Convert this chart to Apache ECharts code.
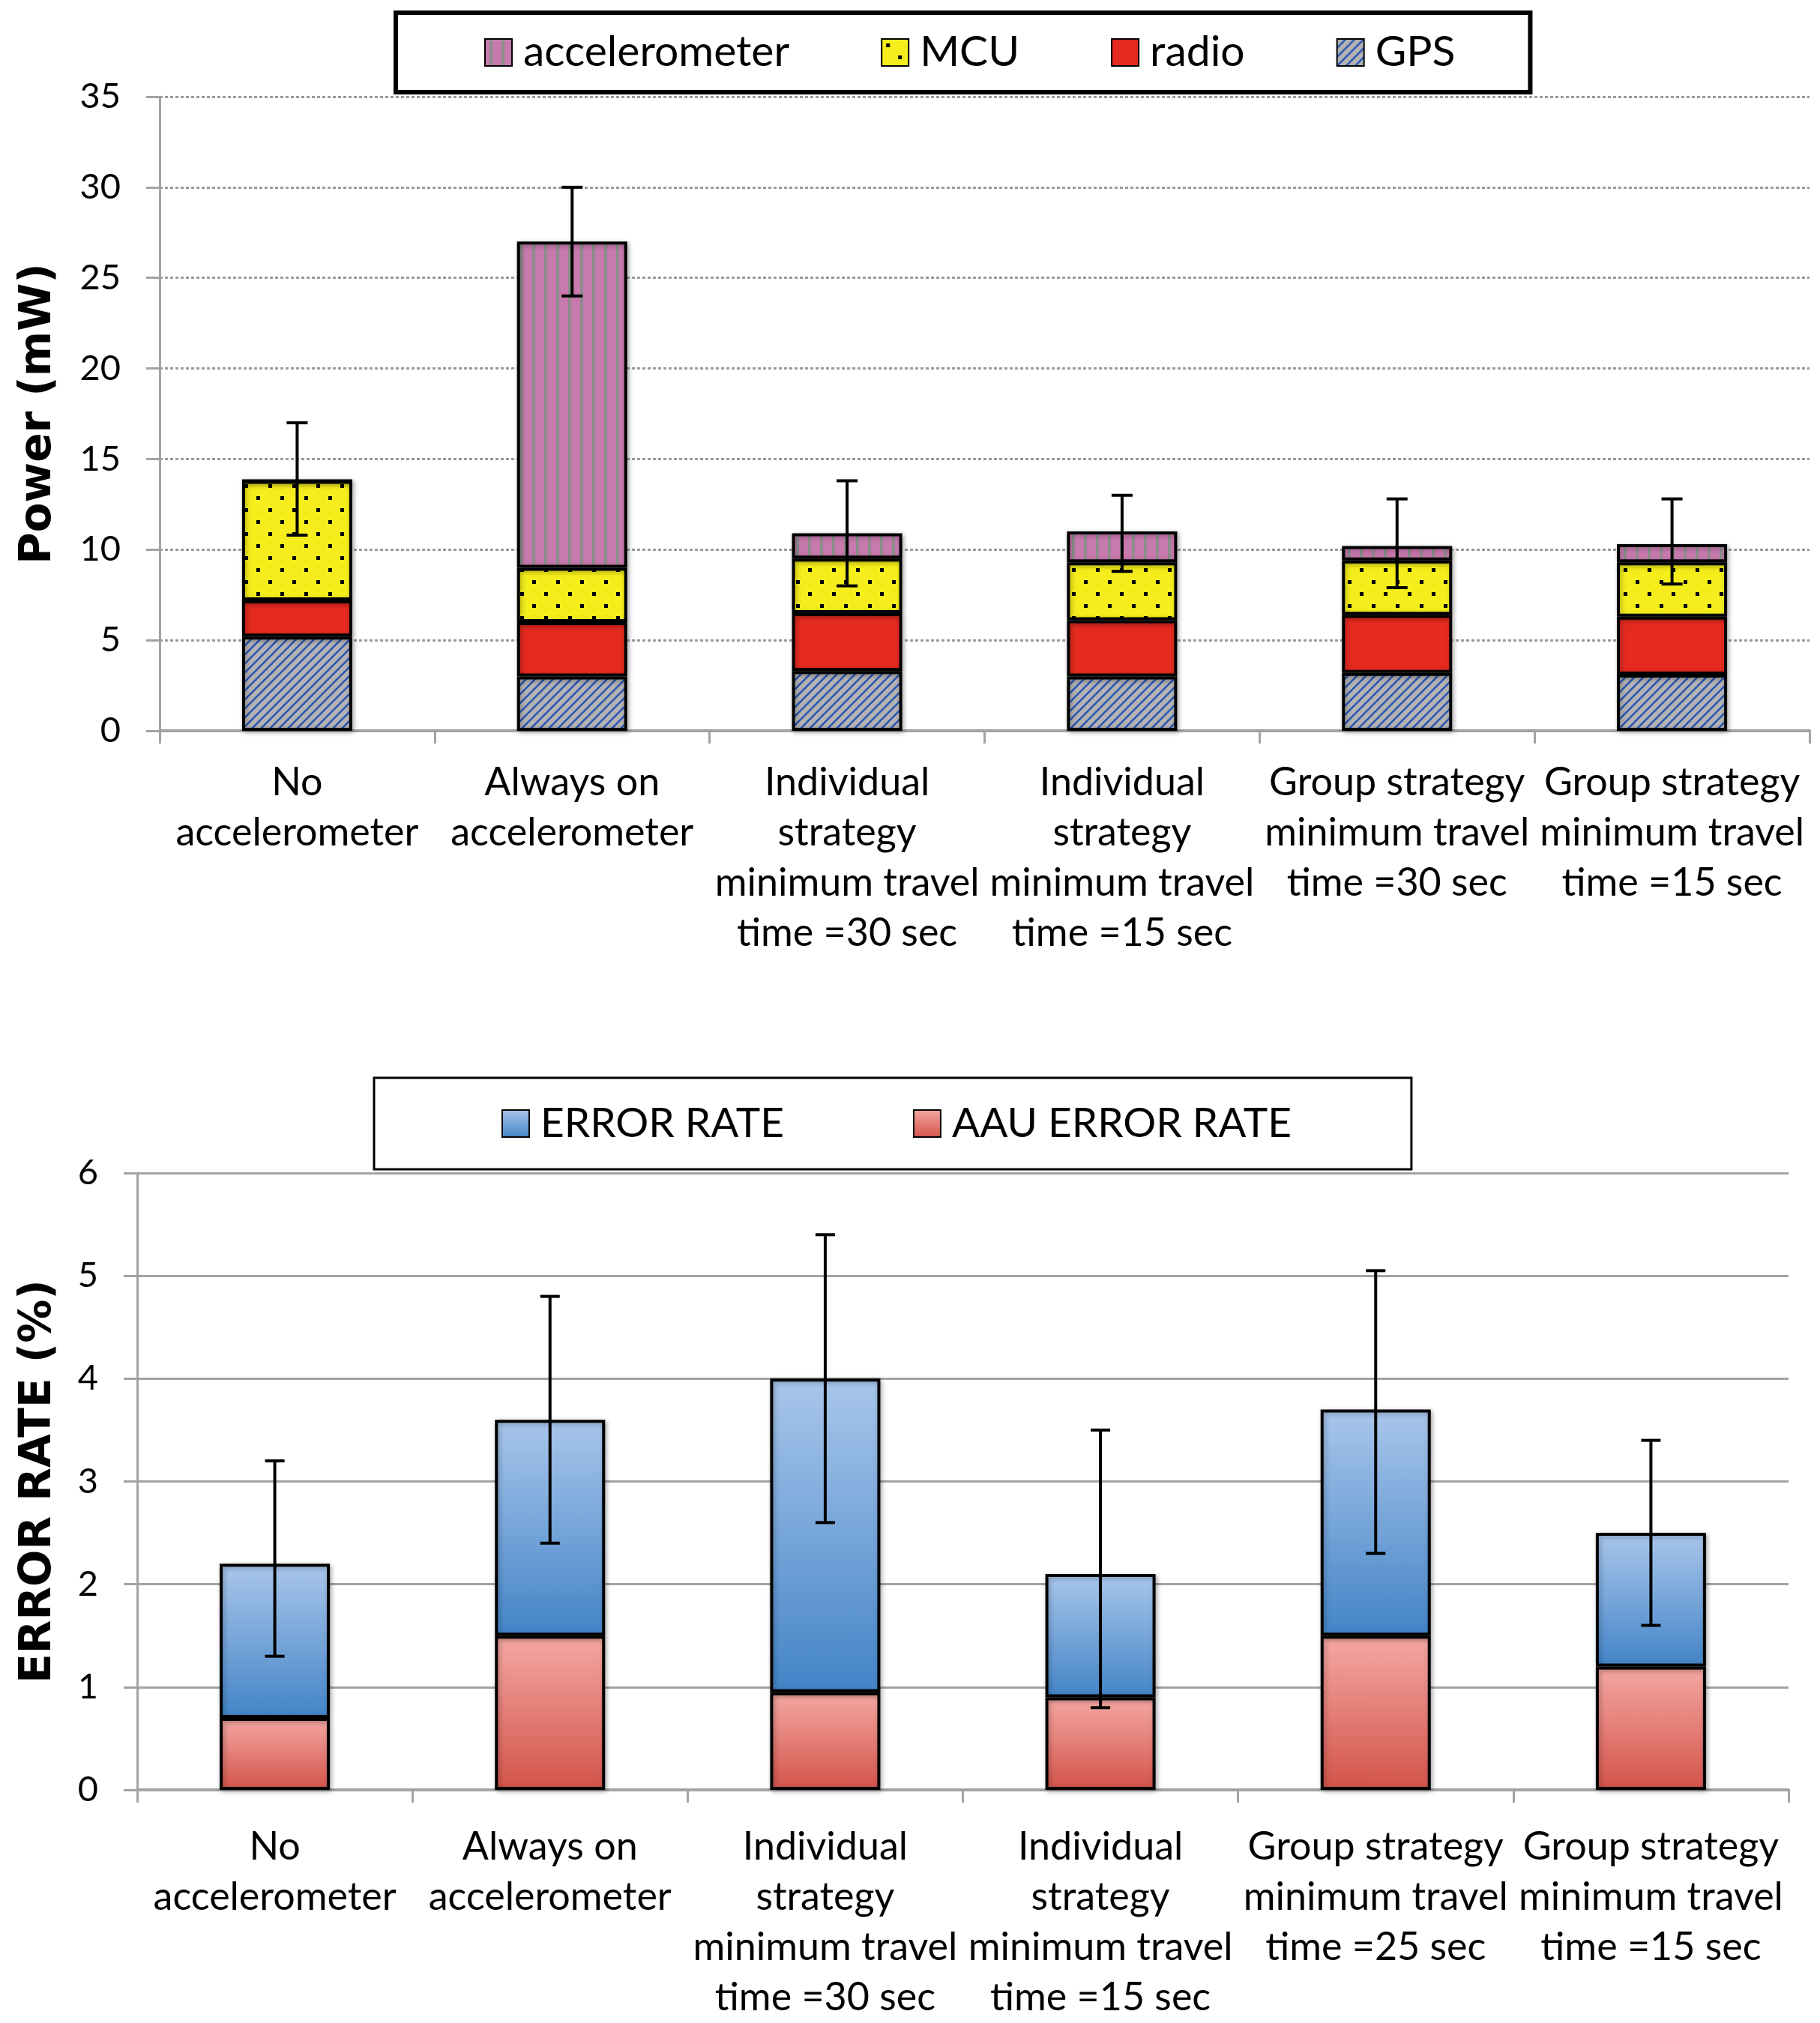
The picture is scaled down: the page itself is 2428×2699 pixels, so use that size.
<!DOCTYPE html>
<html><head><meta charset="utf-8">
<script src="https://cdn.jsdelivr.net/npm/echarts@6/dist/echarts.min.js"></script>
<style>html,body{margin:0;padding:0;background:#fff}#c{width:2428px;height:2699px}</style>
</head><body><div id="c"></div>
<script>
// ---------- data (top chart: power, mW) ----------
const categoriesTop = [
  "No\naccelerometer",
  "Always on\naccelerometer",
  "Individual\nstrategy\nminimum travel\ntime =30 sec",
  "Individual\nstrategy\nminimum travel\ntime =15 sec",
  "Group strategy\nminimum travel\ntime =30 sec",
  "Group strategy\nminimum travel\ntime =15 sec"
];
const gpsPower   = [5.2, 3.0, 3.3, 3.0, 3.2, 3.1];
const radioPower = [2.0, 3.0, 3.2, 3.1, 3.2, 3.2];
const mcuPower   = [6.6, 3.0, 3.0, 3.2, 3.0, 3.0];
const accelPower = [0,  18.0, 1.4, 1.7, 0.8, 1.0];
const powerErrLow  = [10.8, 24.0, 8.0, 8.8, 7.9, 8.1];
const powerErrHigh = [17.0, 30.0, 13.8, 13.0, 12.8, 12.8];
const powerTicks = {min: 0, max: 35, interval: 5};

// ---------- data (bottom chart: error rate, %) ----------
const categoriesBottom = [
  "No\naccelerometer",
  "Always on\naccelerometer",
  "Individual\nstrategy\nminimum travel\ntime =30 sec",
  "Individual\nstrategy\nminimum travel\ntime =15 sec",
  "Group strategy\nminimum travel\ntime =25 sec",
  "Group strategy\nminimum travel\ntime =15 sec"
];
const aauErrorRate = [0.7, 1.5, 0.95, 0.9, 1.5, 1.2];
const errorRate    = [1.5, 2.1, 3.05, 1.2, 2.2, 1.3];   // upper stacked segment
const rateErrLow   = [1.3, 2.4, 2.6, 0.8, 2.3, 1.6];
const rateErrHigh  = [3.2, 4.8, 5.4, 3.5, 5.05, 3.4];
const rateTicks = {min: 0, max: 6, interval: 1};

// ---------- fill patterns ----------
function makePattern(w, h, draw) {
  const c = document.createElement('canvas');
  c.width = w; c.height = h;
  draw(c.getContext('2d'), w, h);
  return {image: c, repeat: 'repeat'};
}
const gpsFill = makePattern(12, 12, (g, w, h) => {
  g.fillStyle = '#b3b3b3'; g.fillRect(0, 0, w, h);
  g.strokeStyle = '#2a56b4'; g.lineWidth = 2.6;
  g.beginPath();
  g.moveTo(-2, h + 2); g.lineTo(w + 2, -2);
  g.moveTo(-2, 2); g.lineTo(2, -2);
  g.moveTo(w - 2, h + 2); g.lineTo(w + 2, h - 2);
  g.stroke();
});
const mcuFill = makePattern(32, 32, (g, w, h) => {
  g.fillStyle = '#f5ee1c'; g.fillRect(0, 0, w, h);
  g.fillStyle = '#000';
  g.fillRect(6, 6, 5, 5);
  g.fillRect(22, 22, 5, 5);
});
const accelFill = makePattern(16, 16, (g, w, h) => {
  g.fillStyle = '#c879ad'; g.fillRect(0, 0, w, h);
  g.fillStyle = '#8d8d8d'; g.fillRect(6, 0, 4, h);
});
const radioFill = '#e52a20';
const blueFill = new echarts.graphic.LinearGradient(0, 0, 0, 1, [
  {offset: 0, color: '#a9c6eb'}, {offset: 1, color: '#4384c7'}]);
const redFill = new echarts.graphic.LinearGradient(0, 0, 0, 1, [
  {offset: 0, color: '#f4a8a3'}, {offset: 1, color: '#d3534a'}]);

// ---------- helpers ----------
const FONT = 'Lato';
const TITLE_FONT = 'DejaVu Sans';
function errorBars(capW) {
  return function (params, api) {
    const x = api.value(0), lo = api.value(1), hi = api.value(2);
    const a = api.coord([x, hi]), b = api.coord([x, lo]);
    const style = {stroke: '#000', lineWidth: 4};
    return {type: 'group', children: [
      {type: 'line', shape: {x1: a[0], y1: a[1], x2: b[0], y2: b[1]}, style},
      {type: 'line', shape: {x1: a[0] - capW / 2, y1: a[1], x2: a[0] + capW / 2, y2: a[1]}, style},
      {type: 'line', shape: {x1: b[0] - capW / 2, y1: b[1], x2: b[0] + capW / 2, y2: b[1]}, style}
    ]};
  };
}
const barBase = {
  type: 'bar', barWidth: 147,
  itemStyle: {borderColor: '#000', borderWidth: 4,
    shadowBlur: 6, shadowColor: 'rgba(0,0,0,0.3)', shadowOffsetX: 2, shadowOffsetY: 2},
  emphasis: {disabled: true}
};
function bar(name, data, fill, stack, xi) {
  return Object.assign({}, barBase, {
    name, data, stack, xAxisIndex: xi, yAxisIndex: xi,
    itemStyle: Object.assign({}, barBase.itemStyle, {color: fill})
  });
}
const axisLabelX = {interval: 0, fontSize: 52, lineHeight: 67, color: '#000', fontFamily: FONT};
const grayLine = {color: '#a3a3a3', width: 3};

const chart = echarts.init(document.getElementById('c'), null, {renderer: 'canvas'});
chart.setOption({
  backgroundColor: '#fff',
  animation: false,
  textStyle: {fontFamily: FONT, color: '#000'},
  legend: [
    {
      data: ['accelerometer', 'MCU', 'radio', 'GPS'],
      left: 528, top: 17,
      padding: [23, 100, 23, 118],
      itemGap: 122, itemWidth: 36, itemHeight: 36, icon: 'rect',
      borderColor: '#000', borderWidth: 6, backgroundColor: '#fff',
      textStyle: {fontSize: 57, lineHeight: 60, color: '#000', fontFamily: FONT, padding: [0, 0, 0, 10]}
    },
    {
      data: ['ERROR RATE', 'AAU ERROR RATE'],
      left: 499, top: 1438,
      padding: [33, 160, 33, 170],
      itemGap: 172, itemWidth: 36, itemHeight: 36, icon: 'rect',
      borderColor: '#000', borderWidth: 3, backgroundColor: '#fff',
      textStyle: {fontSize: 55, lineHeight: 56, color: '#000', fontFamily: FONT, padding: [0, 0, 0, 10]}
    }
  ],
  grid: [
    {left: 213, right: 14, top: 129, height: 846, outerBoundsMode: 'none', containLabel: false},
    {left: 183, right: 42, top: 1565, height: 823, outerBoundsMode: 'none', containLabel: false}
  ],
  xAxis: [
    {type: 'category', gridIndex: 0, data: categoriesTop,
      axisLine: {show: true, lineStyle: {color: '#a3a3a3', width: 4}},
      axisTick: {show: true, length: 17, lineStyle: grayLine},
      axisLabel: Object.assign({margin: 36}, axisLabelX)},
    {type: 'category', gridIndex: 1, data: categoriesBottom,
      axisLine: {show: true, lineStyle: {color: '#a3a3a3', width: 4}},
      axisTick: {show: true, length: 17, lineStyle: grayLine},
      axisLabel: Object.assign({margin: 43}, axisLabelX)}
  ],
  yAxis: [
    {type: 'value', gridIndex: 0, min: powerTicks.min, max: powerTicks.max, interval: powerTicks.interval,
      name: 'Power (mW)', nameLocation: 'middle', nameGap: 132, nameRotate: 90,
      nameTextStyle: {fontSize: 58, fontWeight: 'bold', fontFamily: TITLE_FONT, color: '#000'},
      axisLine: {show: true, lineStyle: grayLine},
      axisTick: {show: true, length: 18, lineStyle: grayLine},
      axisLabel: {fontSize: 47, margin: 52, color: '#000', fontFamily: FONT},
      splitLine: {show: true, lineStyle: {color: '#9a9a9a', width: 3, type: [4, 3]}}},
    {type: 'value', gridIndex: 1, min: rateTicks.min, max: rateTicks.max, interval: rateTicks.interval,
      name: 'ERROR RATE (%)', nameLocation: 'middle', nameGap: 102, nameRotate: 90,
      nameTextStyle: {fontSize: 58, fontWeight: 'bold', fontFamily: TITLE_FONT, color: '#000'},
      axisLine: {show: true, lineStyle: grayLine},
      axisTick: {show: true, length: 18, lineStyle: grayLine},
      axisLabel: {fontSize: 47, margin: 52, color: '#000', fontFamily: FONT},
      splitLine: {show: true, lineStyle: {color: '#a3a3a3', width: 3}}}
  ],
  series: [
    bar('GPS', gpsPower, gpsFill, 'power', 0),
    bar('radio', radioPower, radioFill, 'power', 0),
    bar('MCU', mcuPower, mcuFill, 'power', 0),
    bar('accelerometer', accelPower, accelFill, 'power', 0),
    {type: 'custom', xAxisIndex: 0, yAxisIndex: 0, z: 10, silent: true,
      renderItem: errorBars(28), encode: {x: 0, y: [1, 2]},
      data: categoriesTop.map((c, i) => [i, powerErrLow[i], powerErrHigh[i]])},
    bar('AAU ERROR RATE', aauErrorRate, redFill, 'rate', 1),
    bar('ERROR RATE', errorRate, blueFill, 'rate', 1),
    {type: 'custom', xAxisIndex: 1, yAxisIndex: 1, z: 10, silent: true,
      renderItem: errorBars(26), encode: {x: 0, y: [1, 2]},
      data: categoriesBottom.map((c, i) => [i, rateErrLow[i], rateErrHigh[i]])}
  ]
});
</script></body></html>
